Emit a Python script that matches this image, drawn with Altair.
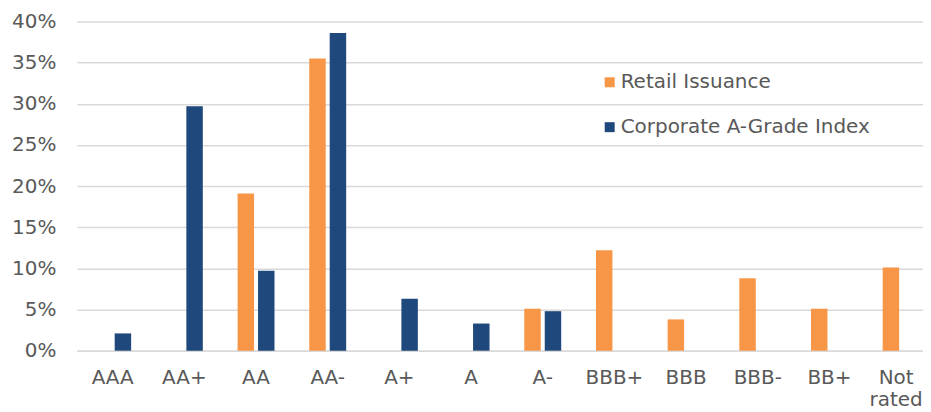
import altair as alt
import pandas as pd

ratings = ["AAA", "AA+", "AA", "AA-", "A+", "A", "A-", "BBB+", "BBB", "BBB-", "BB+", "Not rated"]
retail = [None, None, 19.1, 35.5, None, None, 5.1, 12.2, 3.8, 8.8, 5.1, 10.1]
corporate = [2.1, 29.7, 9.7, 38.6, 6.3, 3.3, 4.8, None, None, None, None, None]
series = ["Retail Issuance", "Corporate A-Grade Index"]
colors = ["#F79646", "#1F497D"]
y_ticks = [0, 0.05, 0.10, 0.15, 0.20, 0.25, 0.30, 0.35, 0.40]

rows = []
for r, a, b in zip(ratings, retail, corporate):
    for s, v in zip(series, (a, b)):
        if v is not None:
            rows.append({"rating": r, "series": s, "value": v / 100})
df = pd.DataFrame(rows)

FONT = "DejaVu Sans"
TXT = "#595959"
GRID = "#d9d9d9"

chart = alt.Chart(df).mark_bar().encode(
    x=alt.X(
        "rating:N",
        sort=ratings,
        scale=alt.Scale(domain=ratings, range=[0, 862], paddingInner=0.485, paddingOuter=0.2425),
        axis=alt.Axis(
            title=None, labelAngle=0, ticks=False, domain=True, domainColor=GRID, domainWidth=1.5,
            grid=False, labelPadding=17, labelExpr="split(datum.value, ' ')", labelLineHeight=22,
            labelFontSize=20, labelColor=TXT, labelFont=FONT, labelBaseline="top",
            labelOffset={"condition": {"test": "datum.value == 'Not rated'", "value": -5}, "value": 0},
        ),
    ),
    xOffset=alt.XOffset("series:N", sort=series, scale=alt.Scale(domain=series, paddingInner=0.195)),
    y=alt.Y(
        "value:Q",
        scale=alt.Scale(domain=[0, 0.4]),
        axis=alt.Axis(
            format=".0%", values=y_ticks, title=None, domain=False, ticks=False,
            gridColor=GRID, gridWidth=1.5, labelPadding=21, labelFontSize=20,
            labelColor=TXT, labelFont=FONT,
        ),
    ),
    color=alt.Color(
        "series:N",
        scale=alt.Scale(domain=series, range=colors),
        legend=alt.Legend(
            title=None, orient="none", legendX=524, legendY=51, direction="vertical",
            symbolType="square", symbolSize=100, symbolStrokeWidth=0, labelFontSize=20,
            labelColor=TXT, labelFont=FONT, rowPadding=25, labelOffset=1, padding=0,
            labelLimit=0,
        ),
    ),
).properties(
    width=848,
    height=330,
    autosize=alt.AutoSizeParams(type="none"),
    padding={"left": 69, "top": 13, "right": 0, "bottom": 62},
).configure_view(stroke=None)

chart.save("out.html", embed_options={"renderer": "svg", "actions": False})
